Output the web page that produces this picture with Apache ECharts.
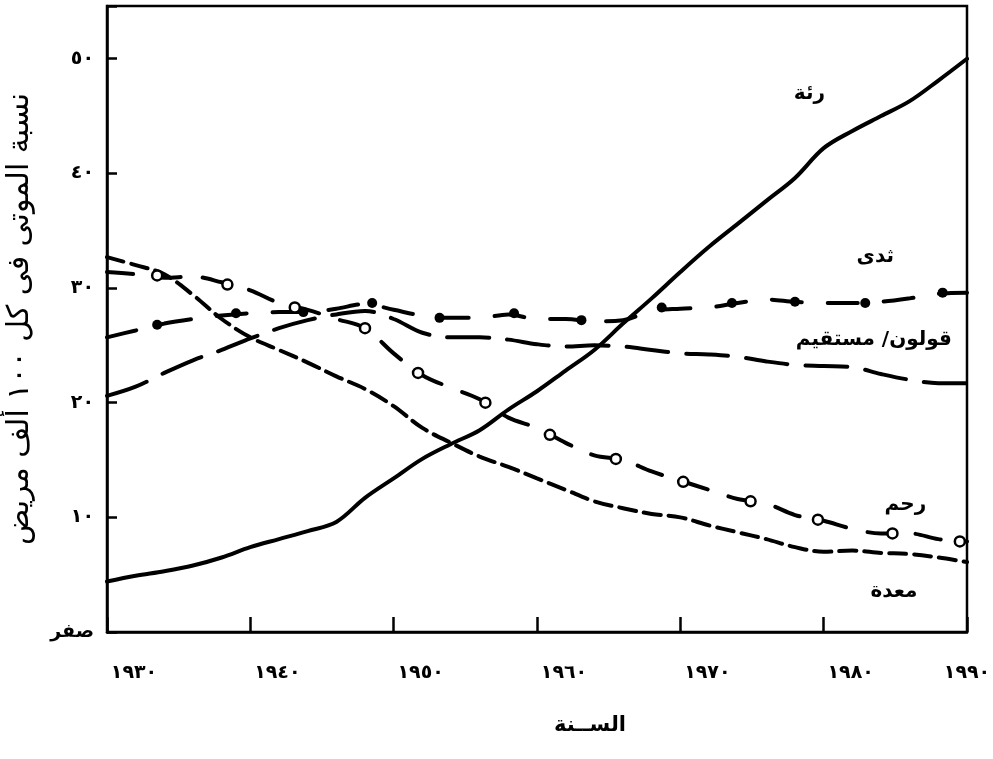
<!DOCTYPE html>
<html><head><meta charset="utf-8">
<script src="https://cdn.jsdelivr.net/npm/echarts@6/dist/echarts.min.js"></script>
<style>html,body{margin:0;padding:0;background:#fff}#c{width:993px;height:759px}</style>
</head><body><div id="c"></div>
<script>
// ---- data ----
const years = [1930,1932,1934,1936,1938,1940,1942,1944,1946,1948,1950,1952,1954,1956,1958,1960,1962,1964,1966,1968,1970,1972,1974,1976,1978,1980,1982,1984,1986,1988,1990];
const lung    = [4.4,4.9,5.3,5.8,6.5,7.4,8.1,8.8,9.6,11.7,13.4,15.1,16.4,17.6,19.4,21.0,22.8,24.6,26.9,29.1,31.4,33.6,35.6,37.6,39.6,42.2,43.7,45.0,46.3,48.1,50.0];
const breast  = [25.7,26.3,26.9,27.3,27.6,27.8,27.9,27.9,28.2,28.6,28.1,27.6,27.4,27.4,27.7,27.3,27.3,27.1,27.2,28.0,28.2,28.3,28.7,29.0,28.8,28.7,28.7,28.8,29.1,29.5,29.6];
const colon   = [20.6,21.4,22.6,23.7,24.6,25.6,26.5,27.2,27.7,28.0,27.3,26.1,25.7,25.7,25.5,25.1,24.9,25.0,24.9,24.6,24.3,24.2,24.0,23.6,23.3,23.2,23.1,22.5,22.0,21.7,21.7];
const uterus  = [31.4,31.2,30.9,31.0,30.5,29.8,28.7,28.1,27.3,26.5,24.3,22.4,21.3,20.3,18.7,17.8,16.5,15.4,15.0,14.0,13.2,12.4,11.6,11.2,10.2,9.7,9.0,8.6,8.6,8.1,7.9];
const stomach = [32.7,32.0,31.2,29.4,27.3,25.7,24.6,23.5,22.3,21.2,19.7,17.8,16.5,15.3,14.4,13.4,12.4,11.4,10.8,10.3,10.0,9.3,8.7,8.1,7.4,7.0,7.1,6.9,6.8,6.5,6.1];
// marker positions
const uterusMarkYears = [1933.5,1938.4,1943.1,1948.0,1951.7,1956.4,1960.9,1965.5,1970.2,1974.9,1979.6,1984.8,1989.5];
const uterusMarkVals  = [31.1,30.3,28.3,26.5,22.6,20.0,17.2,15.1,13.1,11.4,9.8,8.6,7.9];
const breastMarkYears = [1933.5,1939.0,1943.7,1948.5,1953.2,1958.4,1963.1,1968.7,1973.6,1978.0,1982.9,1988.3];
const breastMarkVals  = [26.8,27.8,27.9,28.7,27.4,27.8,27.2,28.3,28.7,28.8,28.7,29.6];
// tick labels
const xTickLabels = {1930:'١٩٣٠',1940:'١٩٤٠',1950:'١٩٥٠',1960:'١٩٦٠',1970:'١٩٧٠',1980:'١٩٨٠',1990:'١٩٩٠'};
const yTickLabels = {0:'صفر',10:'١٠',20:'٢٠',30:'٣٠',40:'٤٠',50:'٥٠'};
// series names and label anchors (year, value)
const seriesNames = ['رئة','ثدى','قولون/ مستقيم','رحم','معدة'];
const labelAnchors = [[1979,46.9],[1983.6,32.7],[1983.5,25.5],[1985.7,11.1],[1984.9,3.5]];
const xTitle = 'الســنة';
const yTitle = 'نسبة الموتى فى كل ١٠٠ ألف مريض';

const pair = (xs, ys) => xs.map((x,i)=>[x, ys[i]]);
const FONT = 'DejaVu Sans';
const chart = echarts.init(document.getElementById('c'), null, {renderer:'canvas'});

function lineSeries(name, vals, dash, width) {
  return {
    name, type:'line', data: pair(years, vals), symbol:'none', smooth:0.35,
    lineStyle:{color:'#000', width: width, type: dash, cap:'round'}, z:3
  };
}
const lblStyle = {fontFamily:FONT, fontSize:19, fontWeight:'bold', color:'#000'};

chart.setOption({
  animation:false,
  backgroundColor:'#fff',
  grid:{left:107, right:26, top:6, bottom:127, containLabel:false, outerBoundsMode:'none',
        show:true, borderColor:'#000', borderWidth:2.5, backgroundColor:'transparent'},
  xAxis:{
    type:'value', min:1930, max:1990, interval:10,
    name: xTitle, nameLocation:'middle', nameGap:83,
    nameTextStyle:{fontFamily:FONT, fontSize:21, fontWeight:'bold', color:'#000', padding:[0,0,0,106]},
    axisLine:{lineStyle:{color:'#000', width:2.5}},
    axisTick:{inside:true, length:15, lineStyle:{color:'#000', width:2.5}},
    splitLine:{show:false},
    axisLabel:{margin:32, color:'#000', fontFamily:FONT, fontSize:19, fontWeight:'bold',
      formatter: v => (v===1990 ? '{b|' : '{a|') + (xTickLabels[v]||'') + '}',
      rich:{a:Object.assign({padding:[0,0,0,54]}, lblStyle),
            b:Object.assign({padding:[0,0,0,0]}, lblStyle)}
    }
  },
  yAxis:{
    type:'value', min:0, max:54.6, interval:10,
    name: yTitle, nameLocation:'middle', nameGap:72, nameRotate:90,
    nameTextStyle:{fontFamily:FONT, fontSize:30, fontWeight:'normal', color:'#000'},
    axisLine:{show:true, lineStyle:{color:'#000', width:2.5}},
    axisTick:{inside:true, length:10, lineStyle:{color:'#000', width:2.5}},
    splitLine:{show:false},
    axisLabel:{margin:13, color:'#000', fontFamily:FONT, fontSize:19, fontWeight:'bold',
      formatter: v => (yTickLabels[v] !== undefined ? yTickLabels[v] : '')}
  },
  series:[
    lineSeries(seriesNames[0], lung, 'solid', 4),
    lineSeries(seriesNames[1], breast, [30,26], 4),
    lineSeries(seriesNames[2], colon, [42,18], 4),
    lineSeries(seriesNames[3], uterus, [26,22], 4),
    lineSeries(seriesNames[4], stomach, [17,8], 4),
    {type:'scatter', data: pair(uterusMarkYears, uterusMarkVals), symbol:'circle', symbolSize:10,
     itemStyle:{color:'#fff', borderColor:'#000', borderWidth:2.5, opacity:1}, z:5},
    {type:'scatter', data: pair(breastMarkYears, breastMarkVals), symbol:'circle', symbolSize:10,
     itemStyle:{color:'#000', opacity:1}, z:5}
  ]
});

const g = labelAnchors.map((a,i)=>{
  const p = chart.convertToPixel({gridIndex:0}, a);
  return {type:'text', x:p[0], y:p[1], z:10,
    style:{text:seriesNames[i], fill:'#000', font:'bold 20px "'+FONT+'"', align:'center', verticalAlign:'middle'}};
});
chart.setOption({graphic:g});
</script>
</body></html>
